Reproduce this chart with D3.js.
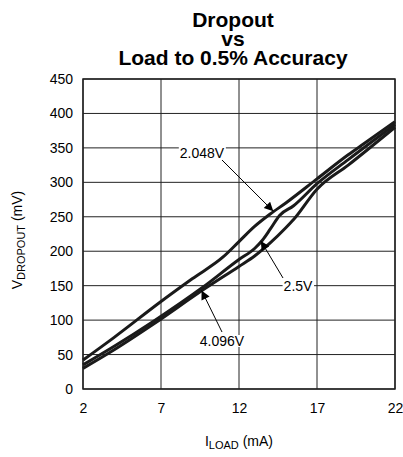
<!DOCTYPE html>
<html><head><meta charset="utf-8">
<script src="https://cdn.jsdelivr.net/npm/d3@7"></script>
<style>body{margin:0;background:#fff}svg{display:block}text{font-family:"Liberation Sans",Arial,sans-serif}</style>
</head><body>
<script>
const titleLines = ["Dropout", "vs", "Load to 0.5% Accuracy"];
const xTicks = [2, 7, 12, 17, 22];
const yTicks = [0, 50, 100, 150, 200, 250, 300, 350, 400, 450];
const series2048 = [[2,42],[4,75],[7,127],[9,160],[11,192],[12,214],[13,236],[14,254],[15,270],[17,305],[19,340],[20,356],[22,388]];
const series25 = [[2,35],[4,62],[6.5,98],[9.7,148],[12,188],[13,204],[13.5,216],[14,232],[14.6,252],[15.5,266],[17,298],[19,333],[22,384]];
const series4096 = [[2,30],[4,57],[6.5,94],[9.7,144],[12,178],[13,193],[14,212],[15,234],[15.5,246],[17,290],[19,325],[22,380]];
const labels = [
  {text:"2.048V", tx:202, ty:153, x:[222,160], tip:[14.2,258]},
  {text:"2.5V", tx:298, ty:286, x:[283,278], tip:[13.4,215]},
  {text:"4.096V", tx:222, ty:341, x:[222,332], tip:[9.6,143]}
];

const W=403,H=457, m={l:83,r:8,t:79,b:68};
const svg=d3.select("body").append("svg").attr("width",W).attr("height",H);
const x=d3.scaleLinear().domain([2,22]).range([m.l,W-m.r]);
const y=d3.scaleLinear().domain([0,450]).range([H-m.b,m.t]);

svg.append("text").attr("text-anchor","middle").attr("font-weight","bold").attr("font-size",21)
  .selectAll("tspan").data(titleLines).join("tspan").attr("x",233).attr("y",(d,i)=>27+i*19).text(d=>d);

// grid
svg.append("g").selectAll("line").data(xTicks).join("line")
  .attr("x1",d=>x(d)).attr("x2",d=>x(d)).attr("y1",y(0)).attr("y2",y(450)).attr("stroke","#222").attr("stroke-width",1);
svg.append("g").selectAll("line").data(yTicks).join("line")
  .attr("x1",x(2)).attr("x2",x(22)).attr("y1",d=>y(d)).attr("y2",d=>y(d)).attr("stroke","#222").attr("stroke-width",1);
svg.append("rect").attr("x",x(2)).attr("y",y(450)).attr("width",x(22)-x(2)).attr("height",y(0)-y(450))
  .attr("fill","none").attr("stroke","#222").attr("stroke-width",1.5);

// axes labels
const ax=d3.axisBottom(x).tickValues(xTicks).tickSize(0).tickPadding(14);
const gx=svg.append("g").attr("transform",`translate(0,${y(0)})`).call(ax);
gx.select(".domain").remove();
gx.selectAll("text").attr("font-size",14).attr("fill","#000");
const ay=d3.axisLeft(y).tickValues(yTicks).tickSize(0).tickPadding(10);
const gy=svg.append("g").attr("transform",`translate(${x(2)},0)`).call(ay);
gy.select(".domain").remove();
gy.selectAll("text").attr("font-size",14).attr("fill","#000");

const xl=svg.append("text").attr("x",239).attr("y",446).attr("text-anchor","middle").attr("font-size",14);
xl.append("tspan").text("I");
xl.append("tspan").attr("font-size",11).attr("dy",3).text("LOAD");
xl.append("tspan").attr("dy",-3).text(" (mA)");
const yl=svg.append("text").attr("transform","translate(22,240) rotate(-90)").attr("text-anchor","middle").attr("font-size",14);
yl.append("tspan").text("V");
yl.append("tspan").attr("font-size",11).attr("dy",3).text("DROPOUT");
yl.append("tspan").attr("dy",-3).text(" (mV)");

// lines
const line=d3.line().x(d=>x(d[0])).y(d=>y(d[1])).curve(d3.curveMonotoneX);
svg.append("g").selectAll("path").data([series4096,series25,series2048]).join("path")
  .attr("d",line).attr("fill","none").attr("stroke","#1a1a1a").attr("stroke-width",3);

// annotations
svg.append("defs").append("marker").attr("id","ah").attr("viewBox","0 0 10 10").attr("refX",10).attr("refY",5)
  .attr("markerWidth",14).attr("markerHeight",9).attr("markerUnits","userSpaceOnUse").attr("orient","auto")
  .append("path").attr("d","M0,0L10,5L0,10z").attr("fill","#000");
labels.forEach(l=>{
  const g=svg.append("g");
  g.append("line").attr("x1",l.x[0]).attr("y1",l.x[1]).attr("x2",x(l.tip[0])).attr("y2",y(l.tip[1]))
    .attr("stroke","#000").attr("stroke-width",1).attr("marker-end","url(#ah)");
  const bgr=g.append("rect").attr("fill","#fff");
  const t=g.append("text").attr("x",l.tx).attr("y",l.ty).attr("text-anchor","middle").attr("dominant-baseline","central")
    .attr("font-size",14).text(l.text);
  const bb=t.node().getBBox();
  bgr.attr("x",bb.x-1).attr("y",bb.y+2).attr("width",bb.width+2).attr("height",bb.height-4);
});
</script>
</body></html>
